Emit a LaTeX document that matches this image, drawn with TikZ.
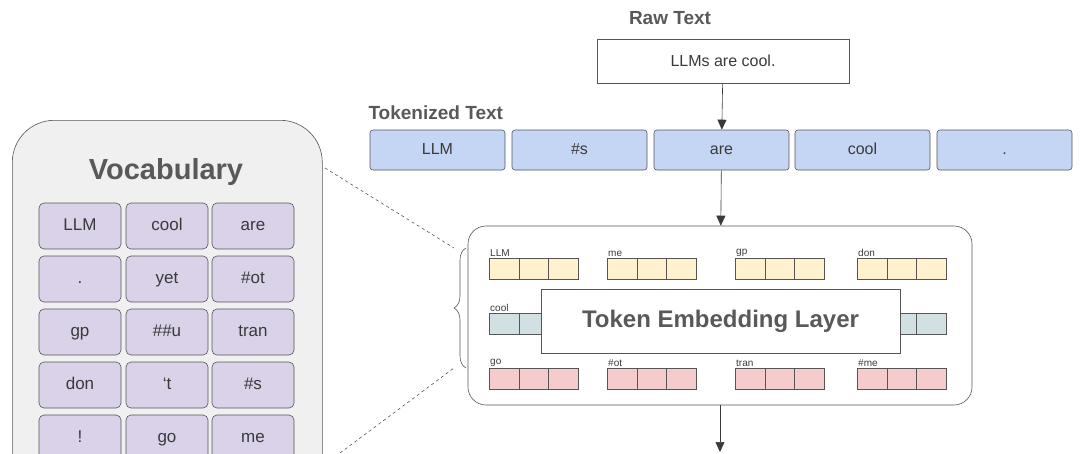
\documentclass[tikz,border=0pt]{standalone}
\usepackage{fontspec}
\setmainfont{Liberation Sans}
\usetikzlibrary{arrows.meta,decorations.pathreplacing}
\definecolor{txt}{HTML}{3A3A3A}
\definecolor{ttl}{HTML}{595959}
\definecolor{edge}{HTML}{555555}
\definecolor{tokblue}{HTML}{C5D6F5}
\definecolor{vocpurple}{HTML}{D9D2E9}
\definecolor{embyellow}{HTML}{FFF2CC}
\definecolor{embteal}{HTML}{D0E0E3}
\definecolor{embpink}{HTML}{F4CCCC}
\begin{document}
\begin{tikzpicture}[
   x=1pt,y=-1pt,
   every node/.style={text=txt},
   title/.style={text=ttl,font=\bfseries\fontsize{19}{19}\selectfont},
   tok/.style={draw=edge,semithick,fill=tokblue,rounded corners=3pt,minimum width=135pt,minimum height=40pt,inner sep=0pt,text height=11pt,text depth=3pt,font=\fontsize{16}{16}\selectfont},
   voc/.style={draw=edge,semithick,fill=vocpurple,rounded corners=5pt,minimum width=82pt,minimum height=46pt,inner sep=0pt,text height=12pt,text depth=4pt,font=\fontsize{17}{17}\selectfont},
   cell/.style={draw=edge,minimum width=29.5pt,minimum height=21pt,inner sep=0pt},
   lbl/.style={anchor=south west,inner sep=1pt,font=\fontsize{10}{10}\selectfont},
   to/.style={-{Triangle[length=10pt,width=9pt]},semithick,draw=txt},
   guide/.style={dashed,semithick,draw=edge}]
\useasboundingbox (0,0) rectangle (1080,453);
% raw text
\node[title] (rawtitle) at (670,18) {Raw Text};
\node[draw=edge,semithick,minimum width=252pt,minimum height=44pt,font=\fontsize{16}{16}\selectfont] (raw) at (723,61) {LLMs are cool.};
% tokenized text
\node[title,anchor=west] (toktitle) at (365,113) {Tokenized Text};
\foreach \t/\x [count=\i] in {LLM/437.5,\#s/579.5,are/721.5,cool/862.5,./1004.5}
  \node[tok] (t\i) at (\x,150) {\t};
% embedding layer
\node[draw=edge,semithick,rounded corners=18pt,minimum width=504pt,minimum height=179pt] (emb) at (720,315.5) {};
\foreach \row/\y/\col in {1/268.5/embyellow,2/323.5/embteal,3/378.5/embpink}
  \foreach \x [count=\j] in {489,607,735,857}
    \foreach \k in {0,1,2}
      \node[cell,fill=\col,anchor=west] (e\row\j\k) at (\x+\k*29.5,\y) {};
\foreach \w/\j in {LLM/1,me/2,gp/3,don/4}
  \node[lbl] (l1\j) at (e1\j0.north west) {\w};
\node[lbl] (l21) at (e210.north west) {cool};
\foreach \w/\j in {go/1,\#ot/2,tran/3,\#me/4}
  \node[lbl] (l3\j) at (e3\j0.north west) {\w};
\node[draw=edge,semithick,fill=white,minimum width=359pt,minimum height=64pt,text=ttl,font=\bfseries\fontsize{24}{24}\selectfont] (layer) at (720.5,321) {Token Embedding Layer};
\coordinate (out) at (720,452);
\draw[to] (raw) -- (t3);
\draw[to] (t3) -- (emb);
\draw[to] (emb) -- (out);
% vocabulary
\node[draw=edge,semithick,fill=black!6,rounded corners=42pt,minimum width=310pt,minimum height=400pt,anchor=north west] (vocab) at (12,120) {};
\node[text=ttl,font=\bfseries\fontsize{29}{29}\selectfont] (voctitle) at (166,172) {Vocabulary};
\foreach \a/\b/\c [count=\r] in {LLM/cool/are,./yet/\#ot,gp/\#\#u/tran,don/`t/\#s,!/go/me}{
  \node[voc] (v\r1) at (80,226+53*\r-53) {\a};
  \node[voc] (v\r2) at (167,226+53*\r-53) {\b};
  \node[voc] (v\r3) at (253,226+53*\r-53) {\c};
}
% brace and guides
\coordinate (btop) at (466,248);
\coordinate (bbot) at (466,368);
\draw[edge,semithick,decorate,decoration={brace,amplitude=12pt}] (bbot) -- (btop);
\coordinate (vtop) at (325,168);
\coordinate (vbot) at (340,453);
\draw[guide] (vtop) -- ([xshift=-12pt]btop);
\draw[guide] (vbot) -- ([xshift=-12pt]bbot);
\end{tikzpicture}
\end{document}
